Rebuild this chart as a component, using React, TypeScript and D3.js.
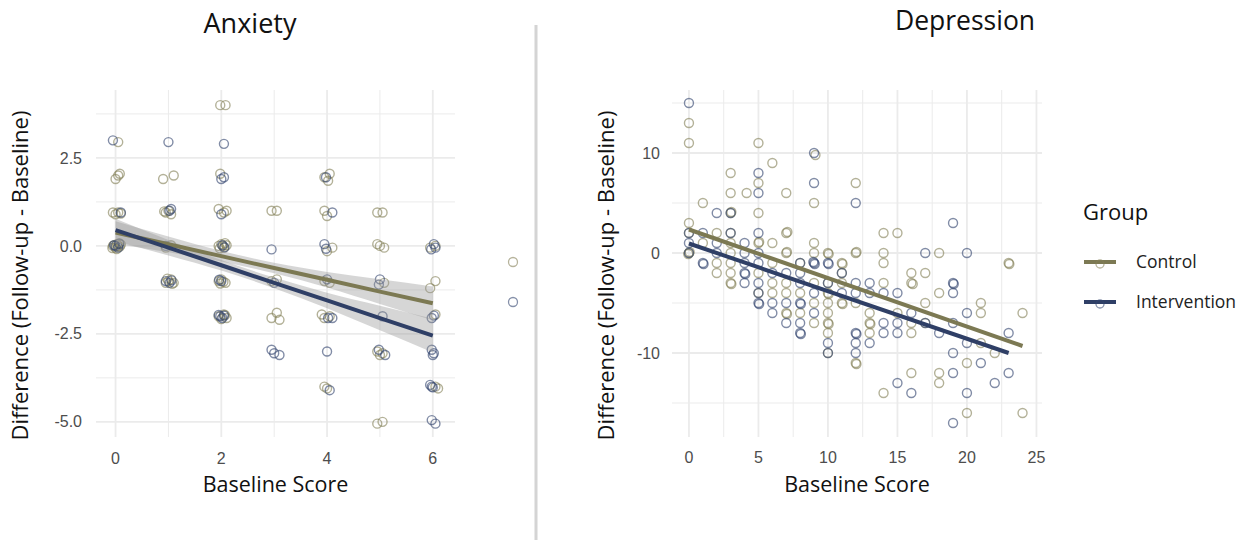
import * as d3 from "d3";

// ---- Anxiety panel data (baseline score, follow-up minus baseline), jittered as in the plot
const anxControl: [number, number][] = [
  [0.05, 2.95], [0.0, 1.9], [0.05, 2.0], [0.08, 2.05],
  [-0.05, 0.95], [0.0, 0.9], [0.05, 0.95], [0.1, 0.92],
  [-0.05, 0.0], [0.0, -0.05], [0.03, 0.05], [0.08, -0.02], [-0.02, 0.03], [0.05, 0.0],
  [0.1, 0.04], [-0.06, -0.06], [0.02, -0.09], [0.07, 0.08],
  [0.9, 1.9], [1.1, 2.0], [0.95, 0.95], [1.0, 1.0], [1.05, 0.9], [0.92, 0.98],
  [0.95, -0.05], [1.05, 0.02],
  [0.95, -1.05], [1.0, -1.0], [1.05, -0.95], [1.1, -1.05], [0.98, -0.93], [1.07, -1.08],
  [1.98, 4.0], [2.08, 4.0], [1.98, 2.05],
  [1.95, 1.05], [2.05, 0.95], [2.1, 1.0],
  [1.95, 0.0], [2.0, 0.05], [2.05, -0.05], [2.1, 0.02], [1.97, -0.07], [2.07, 0.08], [2.03, 0.0],
  [1.95, -1.0], [2.0, -0.95], [2.08, -1.05], [2.04, -1.02], [1.98, -1.07],
  [1.95, -2.0], [2.05, -1.95], [2.1, -2.05], [2.0, -2.08], [2.07, -1.97],
  [2.95, 1.0], [3.05, 1.0], [2.95, -1.0], [3.05, -0.95],
  [2.95, -2.05], [3.05, -1.9], [3.1, -2.1],
  [3.95, 1.95], [4.05, 2.05], [4.02, 1.85], [3.95, 1.0], [4.0, 0.85],
  [4.1, -0.05], [4.0, -0.15], [3.95, -1.0], [4.05, -1.05],
  [3.9, -1.95], [3.95, -2.05], [4.05, -2.0], [3.95, -4.0], [4.0, -4.05],
  [4.95, 0.95], [5.05, 0.95], [4.95, 0.05], [5.0, 0.0], [5.08, -0.05],
  [5.08, -1.05], [4.95, -3.0], [5.0, -3.1], [5.05, -3.05], [4.95, -5.05], [5.05, -5.0],
  [5.95, -0.05], [6.05, 0.0], [5.95, -1.2], [6.05, -1.0], [6.05, -1.95],
  [6.05, -4.0], [6.1, -4.05],
];

const anxIntervention: [number, number][] = [
  [-0.05, 3.0], [0.1, 0.95], [0.0, 0.0], [0.05, -0.05], [-0.03, 0.02], [0.07, 0.06],
  [1.0, 2.95], [1.02, 1.0], [1.05, 1.05], [0.95, 0.0], [0.95, -1.0], [1.02, -1.05], [1.06, -0.98],
  [2.05, 2.9], [2.0, 1.9], [2.05, 1.95], [2.0, 0.9], [2.02, 0.02], [2.06, -0.04], [2.0, -1.0], [1.96, -0.96],
  [1.98, -2.0], [2.02, -2.05], [2.05, -1.98], [1.95, -1.96],
  [2.95, -0.1], [3.0, -1.05], [2.95, -2.95], [3.0, -3.05], [3.1, -3.1],
  [3.98, 1.95], [4.1, 0.95], [3.95, 0.05], [3.98, -0.08], [4.0, -0.95],
  [4.02, -2.05], [4.1, -2.05], [4.0, -3.0], [4.05, -4.1],
  [5.0, -0.95], [4.98, -1.1], [5.05, -2.0], [4.98, -2.95], [5.1, -3.1],
  [5.97, -0.1], [6.02, 0.05], [6.05, -0.05], [5.98, -2.05], [6.02, -1.98],
  [5.98, -2.95], [6.02, -3.05], [6.0, -3.1], [5.95, -3.95], [5.98, -4.0], [6.0, -4.02],
  [5.98, -4.95], [6.05, -5.05],
];

// linear fits and confidence bands: [x, fit, lo, hi]
const anxControlFit: [number, number, number, number][] = [
  [0, 0.38, 0.06, 0.7], [1, 0.045, -0.18, 0.27], [2, -0.29, -0.44, -0.14],
  [3, -0.63, -0.78, -0.48], [4, -0.96, -1.18, -0.74], [5, -1.3, -1.65, -0.95],
  [6, -1.63, -2.11, -1.15],
];
const anxInterventionFit: [number, number, number, number][] = [
  [0, 0.45, 0.13, 0.77], [1, -0.05, -0.27, 0.17], [2, -0.55, -0.7, -0.4],
  [3, -1.05, -1.2, -0.9], [4, -1.55, -1.77, -1.33], [5, -2.05, -2.4, -1.7],
  [6, -2.55, -3.03, -2.07],
];

// ---- Depression panel data
const depControl: [number, number][] = [
  [0, 13], [0, 11], [0, 3], [0, 2], [0, 0], [0.05, 0.1], [-0.05, -0.1],
  [1, 5], [1, 1],
  [2, 2], [2, -1], [2, -2],
  [3, 8], [3, 6], [3, 4], [3.05, 4.1], [3, 2], [3, 1], [3, 0], [3, -1], [3, -2], [3, -3], [3.05, -3.1],
  [4.15, 6],
  [5, 11], [5, 7], [5, 4], [5, 1], [5.05, 1.1], [5, -2], [5, -4],
  [6, 9], [6, 1], [6, -1], [6, -3], [6, -4],
  [7, 6], [7, 2], [7.08, 2.1], [7, 0], [7.05, 0.1], [7, -3], [7, -4], [7, -6], [7.05, -6.1],
  [8, -1], [8, -4], [8, -6],
  [9.1, 9.8], [9, 5], [9, 1], [9, 0], [9, -3], [9, -5], [9, -7],
  [10, 0], [10.05, -0.1], [10, -3], [10, -4], [10.05, -4.1], [10, -5], [10, -6], [10, -7], [10.05, -7.1], [10, -8], [10, -10],
  [11, -1], [11.05, -1.1], [11, -2], [11, -3], [11, -5], [11.05, -5.1],
  [12, 7], [12, 0], [12.05, 0.1], [12, -5], [12, -11], [12.05, -11.1],
  [13, -6], [13, -7], [13.05, -7.1], [13, -8],
  [14, 2], [14, 0], [14, -1], [14, -3], [14, -14],
  [15, 2], [15, -6],
  [16, -2], [16, -3], [16.1, -3.1], [16, -7], [16, -8], [16, -12],
  [17, -2], [17, -5], [17, -7],
  [18, 0], [18, -4], [18, -12], [18, -13],
  [20, -11], [20, -16],
  [21, -5], [21, -6], [21, -9],
  [22, -10],
  [23, -1], [23.05, -1.1],
  [24, -6], [24, -16],
];

const depIntervention: [number, number][] = [
  [0, 15], [0, 2], [0, 1], [0, 0],
  [1, 2], [1, -1], [1.05, -1.1],
  [2, 4], [2, 1], [2, 0],
  [3, 4], [3, 2],
  [4, 1], [4, 0], [4, -1], [4, -2], [4.05, -2.1], [4, -3],
  [5, 8], [5, 6], [5, 2], [5, 0], [5, -1], [5, -3], [5, -4], [5, -5], [5.05, -5.1],
  [6, -2], [6, -5], [6, -6],
  [7, -2], [7, -5], [7, -7],
  [8, -1], [8, -2], [8, -3], [8, -5], [8.05, -5.1], [8, -7], [8, -8], [8.05, -8.1],
  [9, 10], [9, 7], [9, -1], [9.05, -1.1], [8.95, -0.9], [9, -4], [9, -6],
  [10, -1], [10.05, -1.1], [10, -3], [10, -9], [10, -10],
  [11, -2], [11, -4],
  [12, 5], [12, -3], [12, -4], [12, -8], [12.05, -8.1], [12, -9], [12, -10],
  [13, -3], [13, -4], [13, -9],
  [14, -4], [14, -7], [14, -8],
  [15, -4], [15, -7], [15, -8], [15, -13],
  [16, -6], [16, -14],
  [17, 0], [17, -7],
  [18, -8],
  [19, 3], [19, -3], [19.05, -3.1], [19, -4], [19, -7], [19, -10], [19, -12], [19, -17],
  [20, 0], [20, -6], [20, -9], [20, -14],
  [21, -11],
  [22, -13],
  [23, -8], [23, -12],
];

const depControlFit: [number, number][] = [[0, 2.35], [24, -9.3]];
const depInterventionFit: [number, number][] = [[0, 0.95], [23, -10.0]];

// ---- ticks
const anxXMajor = [0, 2, 4, 6];
const anxXMinor = [1, 3, 5];
const anxYMajor = [2.5, 0, -2.5, -5];
const anxYLabels = ["2.5", "0.0", "-2.5", "-5.0"];
const anxYMinor = [3.75, 1.25, -1.25, -3.75];

const depXMajor = [0, 5, 10, 15, 20, 25];
const depXMinor = [2.5, 7.5, 12.5, 17.5, 22.5];
const depYMajor = [10, 0, -10];
const depYLabels = ["10", "0", "-10"];
const depYMinor = [15, 5, -5, -15];

const groups = ["Control", "Intervention"];

const lineColor: Record<string, string> = { Control: "#7c7953", Intervention: "#2f3f66" };
const pointColor: Record<string, string> = { Control: "#858158", Intervention: "#34466f" };

const TICK_FONT = "'Liberation Sans', Arial, sans-serif";
const TITLE_FONT = "'Open Sans', 'Noto Sans', sans-serif";

type Scale = d3.ScaleLinear<number, number>;

function Grid({ x, y, xMajor, xMinor, yMajor, yMinor }: {
  x: Scale; y: Scale; xMajor: number[]; xMinor: number[]; yMajor: number[]; yMinor: number[];
}) {
  const [x0, x1] = x.range();
  const [y0, y1] = y.range();
  return (
    <g>
      {xMinor.map((v) => (
        <line key={"xm" + v} x1={x(v)} x2={x(v)} y1={y0} y2={y1} stroke="#ebebeb" strokeWidth={1} />
      ))}
      {yMinor.map((v) => (
        <line key={"ym" + v} x1={x0} x2={x1} y1={y(v)} y2={y(v)} stroke="#ebebeb" strokeWidth={1} />
      ))}
      {xMajor.map((v) => (
        <line key={"xM" + v} x1={x(v)} x2={x(v)} y1={y0} y2={y1} stroke="#ebebeb" strokeWidth={1.8} />
      ))}
      {yMajor.map((v) => (
        <line key={"yM" + v} x1={x0} x2={x1} y1={y(v)} y2={y(v)} stroke="#ebebeb" strokeWidth={1.8} />
      ))}
    </g>
  );
}

function Points({ data, x, y, group, r = 4.5 }: { data: [number, number][]; x: Scale; y: Scale; group: string; r?: number }) {
  return (
    <g>
      {data.map((d, i) => (
        <circle key={i} cx={x(d[0])} cy={y(d[1])} r={r} fill="none"
          stroke={pointColor[group]} strokeOpacity={0.62} strokeWidth={1.4} />
      ))}
    </g>
  );
}

function Axes({ x, y, xMajor, yMajor, yLabels, yTitleX, labelRight, xLabelY, xTitleY }: {
  x: Scale; y: Scale; xMajor: number[]; yMajor: number[]; yLabels: string[];
  yTitleX: number; labelRight: number; xLabelY: number; xTitleY: number;
}) {
  const [y0, y1] = y.range();
  const [x0, x1] = x.range();
  const cy = (y0 + y1) / 2 + 12;
  return (
    <g>
      {yMajor.map((v, i) => (
        <text key={"yl" + v} x={labelRight} y={y(v)} dy="0.35em" textAnchor="end"
          fontFamily={TICK_FONT} fontSize={16} fill="#4d4d4d">{yLabels[i]}</text>
      ))}
      {xMajor.map((v) => (
        <text key={"xl" + v} x={x(v)} y={xLabelY} textAnchor="middle"
          fontFamily={TICK_FONT} fontSize={16} fill="#4d4d4d">{v}</text>
      ))}
      <text x={(x0 + x1) / 2} y={xTitleY} textAnchor="middle" fontFamily={TITLE_FONT}
        fontSize={21.5} fill="#111">Baseline Score</text>
      <text transform={`translate(${yTitleX},${cy}) rotate(-90)`} textAnchor="middle"
        fontFamily={TITLE_FONT} fontSize={22} fill="#111">Difference (Follow-up - Baseline)</text>
    </g>
  );
}

export default function App() {
  // Anxiety scales
  const ax = d3.scaleLinear().domain([-0.37, 6.42]).range([96, 455]);
  const ay = d3.scaleLinear().domain([-5.43, 4.43]).range([437, 90]);
  // Depression scales
  const dx = d3.scaleLinear().domain([-1.22, 25.4]).range([672, 1042]);
  const dy = d3.scaleLinear().domain([-18.4, 16.3]).range([437, 90]);

  const band = d3.area<[number, number, number, number]>()
    .x((d) => ax(d[0])).y0((d) => ay(d[2])).y1((d) => ay(d[3]))
    .curve(d3.curveMonotoneX);
  const anxLine = d3.line<[number, number, number, number]>()
    .x((d) => ax(d[0])).y((d) => ay(d[1]));
  const depLine = d3.line<[number, number]>().x((d) => dx(d[0])).y((d) => dy(d[1]));

  const anxFits: Record<string, [number, number, number, number][]> = {
    Control: anxControlFit, Intervention: anxInterventionFit,
  };
  const depFits: Record<string, [number, number][]> = {
    Control: depControlFit, Intervention: depInterventionFit,
  };

  return (
    <svg width={1249} height={540} style={{ position: "absolute", left: 0, top: 0, background: "#fff" }}>
      {/* Anxiety */}
      <text x={250} y={33} textAnchor="middle" fontFamily={TITLE_FONT} fontSize={27} fill="#111">Anxiety</text>
      <Grid x={ax} y={ay} xMajor={anxXMajor} xMinor={anxXMinor} yMajor={anxYMajor} yMinor={anxYMinor} />
      <Points data={anxControl} x={ax} y={ay} group="Control" />
      <Points data={anxIntervention} x={ax} y={ay} group="Intervention" />
      {groups.map((g) => (
        <path key={"band" + g} d={band(anxFits[g]) || ""} fill="#999999" fillOpacity={0.4} />
      ))}
      {groups.map((g) => (
        <path key={"fit" + g} d={anxLine(anxFits[g]) || ""} fill="none" stroke={lineColor[g]} strokeWidth={4} />
      ))}
      <Axes x={ax} y={ay} xMajor={anxXMajor} yMajor={anxYMajor} yLabels={anxYLabels}
        yTitleX={28} labelRight={82} xLabelY={464} xTitleY={492} />

      {/* leftover key glyphs from the left panel's legend */}
      {groups.map((g, i) => (
        <circle key={"stray" + g} cx={513} cy={262 + i * 40} r={4.5} fill="none"
          stroke={pointColor[g]} strokeOpacity={0.6} strokeWidth={1.3} />
      ))}

      {/* separator */}
      <line x1={536} x2={536} y1={25} y2={540} stroke="#d4d4d4" strokeWidth={3} />

      {/* Depression */}
      <text x={965} y={30} textAnchor="middle" fontFamily={TITLE_FONT} fontSize={26.5} fill="#111">Depression</text>
      <Grid x={dx} y={dy} xMajor={depXMajor} xMinor={depXMinor} yMajor={depYMajor} yMinor={depYMinor} />
      <Points data={depControl} x={dx} y={dy} group="Control" />
      <Points data={depIntervention} x={dx} y={dy} group="Intervention" />
      {groups.map((g) => (
        <path key={"dfit" + g} d={depLine(depFits[g]) || ""} fill="none" stroke={lineColor[g]} strokeWidth={4} />
      ))}
      <Axes x={dx} y={dy} xMajor={depXMajor} yMajor={depYMajor} yLabels={depYLabels}
        yTitleX={614} labelRight={660} xLabelY={463} xTitleY={492} />

      {/* legend */}
      <text x={1083} y={220} fontFamily={TITLE_FONT} fontSize={22} fill="#111">Group</text>
      {groups.map((g, i) => (
        <g key={"leg" + g} transform={`translate(0,${262 + i * 40})`}>
          <line x1={1084} x2={1116} y1={0} y2={0} stroke={lineColor[g]} strokeWidth={4} />
          <circle cx={1100} cy={2} r={4} fill="none" stroke={pointColor[g]} strokeOpacity={0.6} strokeWidth={1.3} />
          <text x={1136} y={0} dy="0.35em" fontFamily={TITLE_FONT} fontSize={17.5} fill="#222">{g}</text>
        </g>
      ))}
    </svg>
  );
}
